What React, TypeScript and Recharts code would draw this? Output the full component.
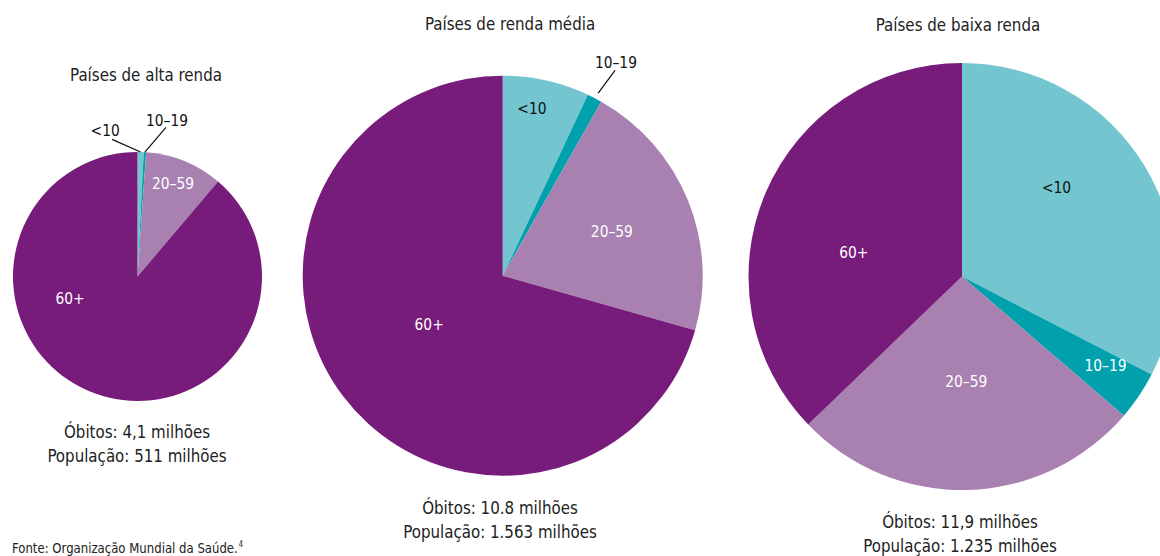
import React from "react";
import { PieChart, Pie, Cell } from "recharts";

// faixas etárias e parcela dos óbitos (%) por grupo de países
const categories = ["<10", "10–19", "20–59", "60+"];
const altaRenda = [0.8, 0.3, 10.1, 88.8];
const rendaMedia = [7.0, 1.2, 21.2, 70.6];
const baixaRenda = [32.6, 3.7, 26.5, 37.2];

const titles = ["Países de alta renda", "Países de renda média", "Países de baixa renda"];
const obitos = ["Óbitos: 4,1 milhões", "Óbitos: 10.8 milhões", "Óbitos: 11,9 milhões"];
const populacao = ["População: 511 milhões", "População: 1.563 milhões", "População: 1.235 milhões"];

const COLORS = ["#73C6CF", "#00A0AD", "#A981B1", "#771C7A"];
const FONT = "'Liberation Sans Narrow', 'DejaVu Sans Condensed', 'Arial Narrow', sans-serif";

type LabelSpec = { angle: number; frac: number; fill: string; line?: [number, number, number, number] };

// label placement: angle clockwise from 12 o'clock, distance as fraction of radius
const pies = [
  {
    values: altaRenda,
    cx: 137.5,
    cy: 276.5,
    r: 124.5,
    title: { x: 146, y: 75 },
    foot: { x: 137, y: 432 },
    labels: [
      { angle: 347.5, frac: 1.2, fill: "#111", line: [349.5, 1.12, 1.4, 1.0] },
      { angle: 10.7, frac: 1.275, fill: "#111", line: [10.8, 1.22, 3.4, 1.0] },
      { angle: 20.9, frac: 0.8, fill: "#fff" },
      { angle: 252, frac: 0.57, fill: "#fff" },
    ] as LabelSpec[],
  },
  {
    values: rendaMedia,
    cx: 502.7,
    cy: 275.7,
    r: 200,
    title: { x: 510, y: 24 },
    foot: { x: 500, y: 508 },
    labels: [
      { angle: 9.9, frac: 0.85, fill: "#111" },
      { angle: 27.9, frac: 1.21, fill: "#111", line: [28.7, 1.17, 27.6, 1.03] },
      { angle: 67.7, frac: 0.59, fill: "#fff" },
      { angle: 236.7, frac: 0.44, fill: "#fff" },
    ] as LabelSpec[],
  },
  {
    values: baixaRenda,
    cx: 962,
    cy: 276.5,
    r: 213.5,
    title: { x: 958, y: 25 },
    foot: { x: 960, y: 522 },
    labels: [
      { angle: 46.5, frac: 0.61, fill: "#111" },
      { angle: 121.7, frac: 0.79, fill: "#fff" },
      { angle: 177.7, frac: 0.49, fill: "#fff" },
      { angle: 282.7, frac: 0.52, fill: "#fff" },
    ] as LabelSpec[],
  },
];

const polar = (cx: number, cy: number, r: number, deg: number) => {
  const a = (deg * Math.PI) / 180;
  return { x: cx + r * Math.sin(a), y: cy - r * Math.cos(a) };
};

function makeLabel(p: (typeof pies)[number]) {
  return (props: any) => {
    const i = props.index as number;
    const s = p.labels[i];
    const pos = polar(p.cx, p.cy, p.r * s.frac, s.angle);
    let line = null;
    if (s.line) {
      const a = polar(p.cx, p.cy, p.r * s.line[1], s.line[0]);
      const b = polar(p.cx, p.cy, p.r * s.line[3], s.line[2]);
      line = <line x1={a.x} y1={a.y} x2={b.x} y2={b.y} stroke="#111" strokeWidth={1.2} />;
    }
    return (
      <g key={`lbl-${i}`}>
        {line}
        <text
          x={pos.x}
          y={pos.y}
          textAnchor="middle"
          dominantBaseline="central"
          fill={s.fill}
          fontSize={16.5}
          fontFamily={FONT}
          transform={`translate(${pos.x} ${pos.y}) scale(0.93 1) translate(${-pos.x} ${-pos.y})`}
        >
          {categories[i]}
        </text>
      </g>
    );
  };
}

const textStyle: React.CSSProperties = {
  position: "absolute",
  transform: "translate(-50%, -50%) scaleX(0.93)",
  whiteSpace: "nowrap",
  fontFamily: FONT,
  fontSize: 18,
  color: "#222",
  lineHeight: 1,
};

export default function App() {
  return (
    <div style={{ position: "relative", width: 1160, height: 556, background: "#fff", overflow: "hidden" }}>
      <style>{"html,body{margin:0;padding:0;overflow:hidden;}"}</style>
      <PieChart
        width={1160}
        height={556}
        margin={{ top: 0, right: 0, bottom: 0, left: 0 }}
        style={{ position: "absolute", left: 0, top: 0 }}
      >
        {pies.map((p, k) => (
          <Pie
            key={k}
            data={p.values.map((v, i) => ({ name: categories[i], value: v }))}
            dataKey="value"
            nameKey="name"
            cx={p.cx}
            cy={p.cy}
            outerRadius={p.r}
            innerRadius={0}
            startAngle={90}
            endAngle={-270}
            stroke="none"
            labelLine={false}
            label={makeLabel(p)}
            isAnimationActive={false}
          >
            {p.values.map((_v, i) => (
              <Cell key={i} fill={COLORS[i]} />
            ))}
          </Pie>
        ))}
      </PieChart>
      {pies.map((p, k) => (
        <React.Fragment key={k}>
          <div style={{ ...textStyle, left: p.title.x, top: p.title.y }}>{titles[k]}</div>
          <div style={{ ...textStyle, left: p.foot.x, top: p.foot.y }}>{obitos[k]}</div>
          <div style={{ ...textStyle, left: p.foot.x, top: p.foot.y + 23.5 }}>{populacao[k]}</div>
        </React.Fragment>
      ))}
      <div
        style={{
          position: "absolute",
          left: 12,
          top: 541,
          fontFamily: FONT,
          fontSize: 14,
          color: "#222",
          whiteSpace: "nowrap",
          lineHeight: 1,
          transform: "scaleX(0.93)",
          transformOrigin: "0 50%",
        }}
      >
        Fonte: Organização Mundial da Saúde.
        <span style={{ fontSize: 8, position: "relative", top: -6, marginLeft: 1 }}>4</span>
      </div>
    </div>
  );
}
